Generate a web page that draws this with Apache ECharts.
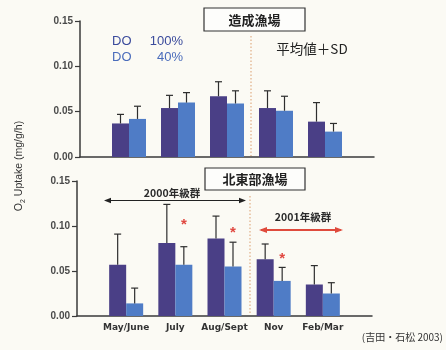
<!DOCTYPE html>
<html>
<head>
<meta charset="utf-8">
<script src="https://cdn.jsdelivr.net/npm/echarts@6/dist/echarts.min.js"></script>
<style>
html, body { margin: 0; padding: 0; background: #fbfaf4; }
#c { width: 446px; height: 350px; }
</style>
</head>
<body>
<div id="c"></div>
<script>
// Sampling months
const months = ['May/June', 'July', 'Aug/Sept', 'Nov', 'Feb/Mar'];
const yTicks = [0, 0.05, 0.10, 0.15];

// 造成漁場 : mean and SD of O2 uptake (mg/g/h)
const topDO100   = [0.037, 0.054, 0.067, 0.054, 0.039];
const topDO100SD = [0.010, 0.014, 0.016, 0.019, 0.021];
const topDO40    = [0.042, 0.060, 0.059, 0.051, 0.028];
const topDO40SD  = [0.014, 0.011, 0.014, 0.016, 0.009];

// 北東部漁場
const botDO100   = [0.057, 0.081, 0.086, 0.063, 0.035];
const botDO100SD = [0.034, 0.043, 0.025, 0.017, 0.021];
const botDO40    = [0.014, 0.057, 0.055, 0.039, 0.025];
const botDO40SD  = [0.017, 0.020, 0.027, 0.015, 0.012];
// significance marks (*) above DO 40% bars
const botStar    = [null, 0.101, 0.092, 0.064, null];

const C100 = '#4a3f86';
const C40 = '#4f7cc6';
const BAR_W = 17;

// pad the category axis with an empty slot on each side
const cats = [''].concat(months, ['']);
const pad = arr => [null].concat(arr, [null]);

function errRender(shift) {
  return function (params, api) {
    const i = api.value(0);
    const x = api.coord([i, 0])[0] + shift;
    const y0 = api.coord([i, api.value(1)])[1];
    const y1 = api.coord([i, api.value(1) + api.value(2)])[1];
    const st = { stroke: '#2e2e2e', lineWidth: 1.2 };
    return {
      type: 'group',
      children: [
        { type: 'line', shape: { x1: x, y1: y0, x2: x, y2: y1 }, style: st },
        { type: 'line', shape: { x1: x - 3.5, y1: y1, x2: x + 3.5, y2: y1 }, style: st }
      ]
    };
  };
}

function errData(mean, sd) {
  return mean.map((m, i) => [i + 1, m, sd[i]]);
}

function starRender(params, api) {
  const i = api.value(0);
  const p = api.coord([i, api.value(1)]);
  return {
    type: 'text',
    style: {
      x: p[0] + BAR_W / 2, y: p[1], text: '*',
      fill: '#e0473f', font: 'bold 15px "Liberation Sans", Arial',
      align: 'center', verticalAlign: 'middle'
    }
  };
}

function xAxisFor(gi, showLabels) {
  return {
    type: 'category', gridIndex: gi, data: cats, boundaryGap: false,
    axisLine: { lineStyle: { color: '#3a3a3a', width: 1.5 } },
    axisTick: { show: false },
    axisLabel: {
      show: showLabels, interval: 0, margin: 7,
      color: '#333', fontSize: 9, fontWeight: 'bold',
      fontFamily: '"DejaVu Sans", Arial'
    }
  };
}

function yAxisFor(gi) {
  return {
    type: 'value', gridIndex: gi, min: 0, max: 0.15, interval: 0.05,
    axisLine: { show: true, lineStyle: { color: '#3a3a3a', width: 1.5 } },
    axisTick: { show: true, length: 5, lineStyle: { color: '#3a3a3a', width: 1.2 } },
    splitLine: { show: false },
    axisLabel: {
      margin: 7, color: '#4a4a4a', fontSize: 10, fontWeight: 'bold',
      fontFamily: '"Liberation Sans", Arial',
      formatter: v => yTicks.some(t => Math.abs(t - v) < 1e-9) ? v.toFixed(2) : ''
    }
  };
}

function barSeries(gi, data, color) {
  return {
    type: 'bar', xAxisIndex: gi, yAxisIndex: gi, data: pad(data),
    barWidth: BAR_W, barGap: '0%',
    itemStyle: { color: color }
  };
}

function errSeries(gi, mean, sd, shift) {
  return {
    type: 'custom', xAxisIndex: gi, yAxisIndex: gi,
    data: errData(mean, sd), renderItem: errRender(shift), z: 5
  };
}

const chart = echarts.init(document.getElementById('c'), null, { renderer: 'canvas' });

const txt = (x, y, text, extra) => ({
  type: 'text', x: x, y: y, z: 20,
  style: Object.assign({ text: text, fill: '#222', font: '13px "Liberation Sans", Arial' }, extra || {})
});

function arrow(x1, x2, y, color, w, head) {
  return [
    { type: 'line', z: 20, shape: { x1: x1 + 2, y1: y, x2: x2 - 2, y2: y }, style: { stroke: color, lineWidth: w } },
    { type: 'polygon', z: 20, shape: { points: [[x1, y], [x1 + head, y - head / 2.6], [x1 + head, y + head / 2.6]] }, style: { fill: color } },
    { type: 'polygon', z: 20, shape: { points: [[x2, y], [x2 - head, y - head / 2.6], [x2 - head, y + head / 2.6]] }, style: { fill: color } }
  ];
}

const option = {
  backgroundColor: '#fbfaf4',
  animation: false,
  grid: [
    { left: 80, right: 72, top: 21, height: 136 },
    { left: 77, right: 74, top: 181, height: 135 }
  ],
  xAxis: [xAxisFor(0, false), xAxisFor(1, true)],
  yAxis: [yAxisFor(0), yAxisFor(1)],
  series: [
    barSeries(0, topDO100, C100),
    barSeries(0, topDO40, C40),
    errSeries(0, topDO100, topDO100SD, -BAR_W / 2),
    errSeries(0, topDO40, topDO40SD, BAR_W / 2),
    barSeries(1, botDO100, C100),
    barSeries(1, botDO40, C40),
    errSeries(1, botDO100, botDO100SD, -BAR_W / 2),
    errSeries(1, botDO40, botDO40SD, BAR_W / 2),
    {
      type: 'custom', xAxisIndex: 1, yAxisIndex: 1, z: 6,
      data: botStar.map((v, i) => v == null ? null : [i + 1, v]).filter(d => d),
      renderItem: starRender
    }
  ],
  graphic: [].concat(
    [
      // period separators (between Aug/Sept and Nov)
      { type: 'line', z: 1, shape: { x1: 251, y1: 36, x2: 251, y2: 156 },
        style: { stroke: '#e2b48e', lineWidth: 1.3, lineDash: [1.5, 2] } },
      { type: 'line', z: 1, shape: { x1: 250, y1: 196, x2: 250, y2: 315 },
        style: { stroke: '#e2b48e', lineWidth: 1.3, lineDash: [1.5, 2] } },

      // station title boxes
      { type: 'rect', z: 19, shape: { x: 204, y: 8, width: 101, height: 23 },
        style: { fill: '#fdfdfb', stroke: '#333', lineWidth: 1.2 } },
      txt(254.5, 20, '造成漁場', { font: 'bold 13px "Noto Sans CJK JP"', align: 'center', verticalAlign: 'middle' }),
      { type: 'rect', z: 19, shape: { x: 205, y: 168, width: 100, height: 22 },
        style: { fill: '#fdfdfb', stroke: '#333', lineWidth: 1.2 } },
      txt(255, 179.5, '北東部漁場', { font: 'bold 13px "Noto Sans CJK JP"', align: 'center', verticalAlign: 'middle' }),

      // legend
      txt(112, 41, 'DO', { fill: '#3b4b9c', verticalAlign: 'middle' }),
      txt(183, 41, '100%', { fill: '#3b4b9c', align: 'right', verticalAlign: 'middle' }),
      txt(112, 57, 'DO', { fill: '#4a6cbb', verticalAlign: 'middle' }),
      txt(183, 57, '40%', { fill: '#4a6cbb', align: 'right', verticalAlign: 'middle' }),
      txt(312, 49, '平均値＋SD', { font: '13.5px "Noto Sans CJK JP"', align: 'center', verticalAlign: 'middle' }),

      // year-class annotations
      txt(172, 193, '2000年級群', { font: 'bold 10.5px "Noto Sans CJK JP"', align: 'center', verticalAlign: 'middle', fill: '#2a2a2a' }),
      txt(303, 217, '2001年級群', { font: 'bold 10.5px "Noto Sans CJK JP"', align: 'center', verticalAlign: 'middle', fill: '#2a2a2a' }),

      // y-axis title
      {
        type: 'text', x: 19, y: 166, rotation: Math.PI / 2, z: 20,
        style: {
          text: '{a|O}{s|2}{a| Uptake (mg/g/h)}',
          align: 'center', verticalAlign: 'middle',
          rich: {
            a: { fontSize: 10.5, fontFamily: '"Liberation Sans", Arial', fill: '#333', lineHeight: 15, verticalAlign: 'middle' },
            s: { fontSize: 7, fontFamily: '"Liberation Sans", Arial', fill: '#333', lineHeight: 15, verticalAlign: 'bottom' }
          }
        }
      },

      // source
      txt(443, 337, '(吉田・石松 2003)', { font: '10px "Noto Sans CJK JP"', align: 'right', verticalAlign: 'middle', fill: '#333' })
    ],
    arrow(104, 246, 200.5, '#222', 1.2, 7),
    arrow(259, 343, 230, '#df4a3c', 2, 8)
  )
};

chart.setOption(option);
</script>
</body>
</html>
